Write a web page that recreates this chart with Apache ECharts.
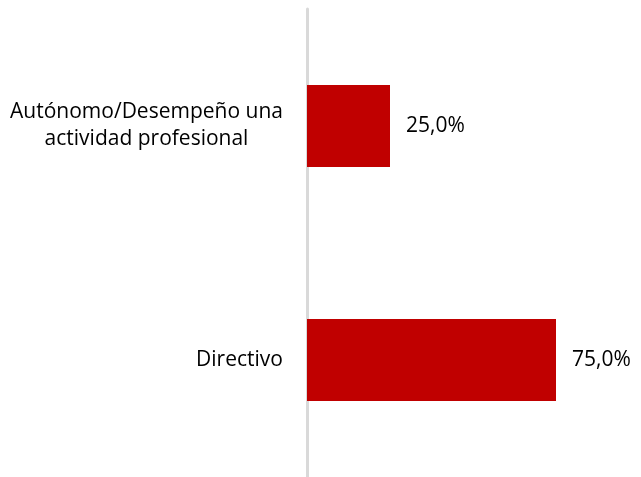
<!DOCTYPE html>
<html>
<head>
<meta charset="utf-8">
<script src="https://cdn.jsdelivr.net/npm/echarts@6/dist/echarts.min.js"></script>
<style>
  html, body { margin: 0; padding: 0; background: #fff; }
  #chart { width: 641px; height: 477px; }
</style>
</head>
<body>
<div id="chart"></div>
<script>
// categories from top to bottom
const categories = ['Autónomo/Desempeño una\nactividad profesional', 'Directivo']
const shares = [25.0, 75.0]

const font = '"Open Sans", sans-serif'
const fontSize = 21

// widest line of each label, so multi-line labels can be centred line by line
const ctx = document.createElement('canvas').getContext('2d')
ctx.font = fontSize + 'px ' + font
function blockWidth(text) {
  return Math.ceil(Math.max(...text.split('\n').map(s => ctx.measureText(s).width)))
}

const chart = echarts.init(document.getElementById('chart'))

chart.setOption({
  animation: false,
  grid: {
    top: 9,
    bottom: 0,
    left: 307,
    right: 2
  },
  xAxis: {
    type: 'value',
    min: 0,
    max: 100,
    show: false
  },
  yAxis: {
    type: 'category',
    inverse: true,
    data: categories,
    axisLine: { lineStyle: { color: '#d9d9d9', width: 3 } },
    axisTick: { show: false },
    axisLabel: {
      margin: 24,
      align: 'right',
      formatter: v => {
        const w = blockWidth(v)
        return v.split('\n').map(s => '{c' + w + '|' + s + '}').join('\n')
      },
      rich: Object.fromEntries(categories.map(c => {
        const w = blockWidth(c)
        return ['c' + w, {
          width: w,
          align: 'center',
          color: '#000',
          fontFamily: font,
          fontSize: fontSize,
          lineHeight: 27
        }]
      }))
    }
  },
  series: [{
    type: 'bar',
    data: shares,
    barWidth: '35%',
    itemStyle: { color: '#c00000' },
    label: {
      show: true,
      position: 'right',
      distance: 16,
      color: '#000',
      fontFamily: font,
      fontSize: fontSize,
      formatter: p => p.value.toFixed(1).replace('.', ',') + '%'
    }
  }]
})
</script>
</body>
</html>
